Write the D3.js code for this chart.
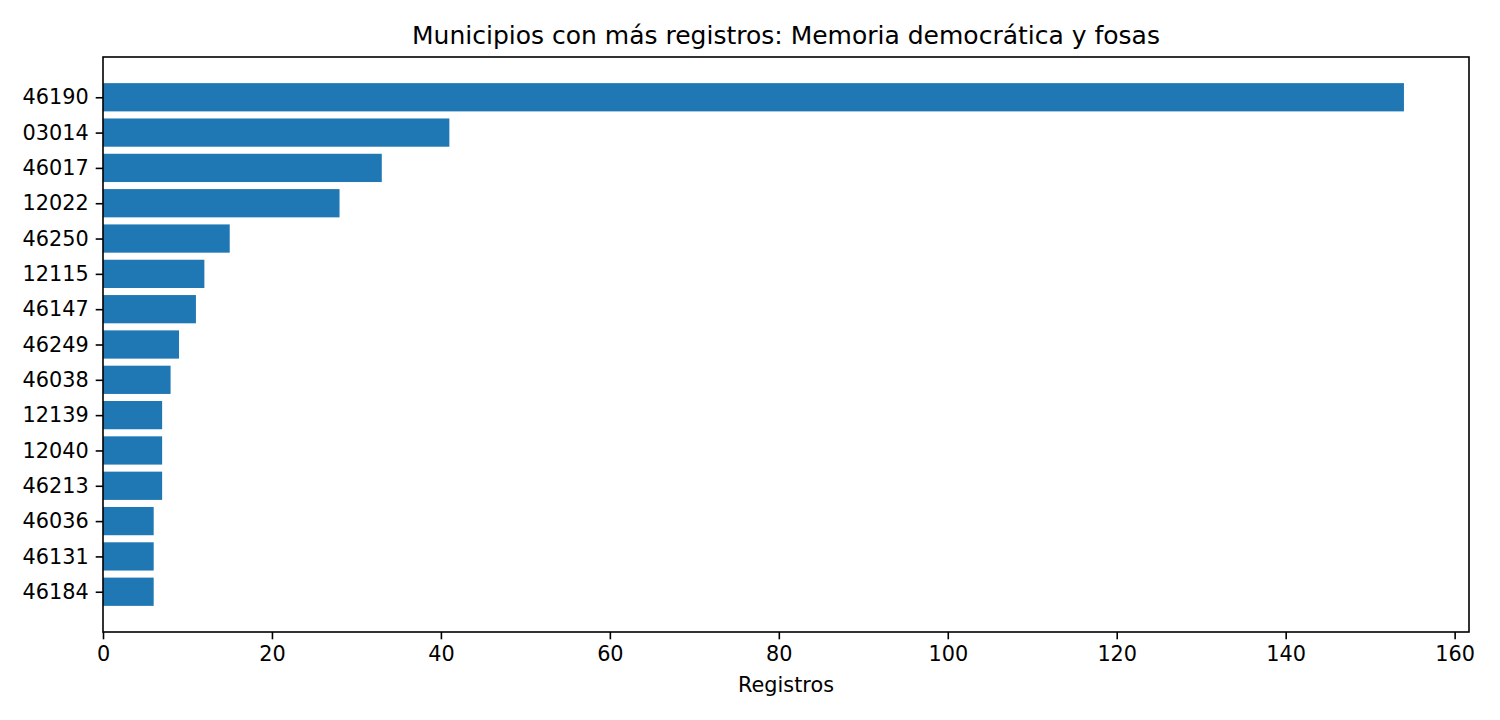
<!DOCTYPE html>
<html>
<head>
<meta charset="utf-8">
<script src="https://cdn.jsdelivr.net/npm/d3@7"></script>
<style>
  body { margin: 0; background: #fff; }
  svg { font-family: "DejaVu Sans", sans-serif; }
</style>
</head>
<body>
<svg id="chart" width="1500" height="720"></svg>
<script>
// municipality codes, top to bottom
const municipios = ["46190", "03014", "46017", "12022", "46250", "12115", "46147", "46249",
                    "46038", "12139", "12040", "46213", "46036", "46131", "46184"];
const registros = [154, 41, 33, 28, 15, 12, 11, 9, 8, 7, 7, 7, 6, 6, 6];
const xTicks = [0, 20, 40, 60, 80, 100, 120, 140, 160];

const margin = {top: 57, right: 31, bottom: 88, left: 103};
const width = 1500 - margin.left - margin.right,
      height = 720 - margin.top - margin.bottom;

const svg = d3.select('#chart');
const g = svg.append('g').attr('transform', `translate(${margin.left},${margin.top})`);

const xMax = d3.max(registros) * 1.05;
const x = d3.scaleLinear().domain([0, xMax]).range([0, width]);
// matplotlib-like: index positions with 0.8 bar height and 5% margins
const n = municipios.length;
const y = d3.scaleLinear().domain([-0.4 - 0.74, n - 1 + 0.4 + 0.74]).range([0, height]);

const data = municipios.map((m, i) => ({m: m, v: registros[i], i: i}));

g.selectAll('rect.bar')
  .data(data)
  .enter()
  .append('rect')
  .attr('class', 'bar')
  .attr('x', x(0))
  .attr('y', d => y(d.i - 0.4))
  .attr('width', d => x(d.v) - x(0))
  .attr('height', d => y(d.i + 0.4) - y(d.i - 0.4))
  .attr('fill', '#1f77b4');

// x axis
const xAxis = g.append('g')
  .attr('transform', `translate(0,${height})`)
  .call(d3.axisBottom(x).tickValues(xTicks).tickSize(7.3).tickPadding(7));
xAxis.select('.domain').remove();
xAxis.selectAll('line').attr('stroke', '#000').attr('stroke-width', 1.6);
xAxis.selectAll('text').attr('font-size', 20.8).attr('fill', '#000')
  .attr('font-family', '"DejaVu Sans", sans-serif');

// y axis
const yAxis = g.append('g')
  .call(d3.axisLeft(y).tickValues(d3.range(n)).tickFormat(i => municipios[i]).tickSize(7.3).tickPadding(7));
yAxis.select('.domain').remove();
yAxis.selectAll('line').attr('stroke', '#000').attr('stroke-width', 1.6);
yAxis.selectAll('text').attr('font-size', 20.8).attr('fill', '#000')
  .attr('font-family', '"DejaVu Sans", sans-serif');

// frame
g.append('rect')
  .attr('x', 0).attr('y', 0)
  .attr('width', width).attr('height', height)
  .attr('fill', 'none').attr('stroke', '#000').attr('stroke-width', 1.6);

svg.append('text')
  .attr('x', margin.left + width / 2)
  .attr('y', margin.top - 13)
  .attr('text-anchor', 'middle')
  .attr('font-size', 25)
  .text('Municipios con más registros: Memoria democrática y fosas');

svg.append('text')
  .attr('x', margin.left + width / 2)
  .attr('y', 692)
  .attr('text-anchor', 'middle')
  .attr('font-size', 20.8)
  .text('Registros');
</script>
</body>
</html>
